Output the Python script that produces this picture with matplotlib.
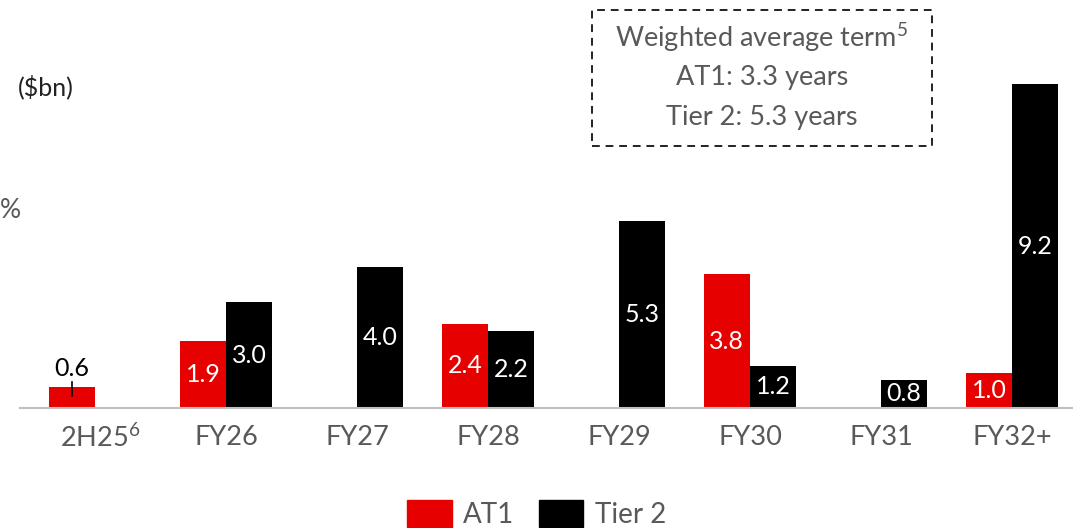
import matplotlib.pyplot as plt
import numpy as np
from matplotlib.patches import Patch, FancyBboxPatch

plt.rcParams['font.family'] = ['Lato', 'DejaVu Sans']
plt.rcParams['mathtext.fontset'] = 'custom'
plt.rcParams['mathtext.rm'] = 'Lato'
plt.rcParams['mathtext.it'] = 'Lato'
plt.rcParams['mathtext.default'] = 'rm'

categories = ['2H25$^{6}$', 'FY26', 'FY27', 'FY28', 'FY29', 'FY30', 'FY31', 'FY32+']
at1 = [0.6, 1.9, 0, 2.4, 0, 3.8, 0, 1.0]
tier2 = [0, 3.0, 4.0, 2.2, 5.3, 1.2, 0.8, 9.2]

red = '#e60000'
grey = '#595959'

fig = plt.figure(figsize=(10.73, 5.28), dpi=100)
ax = fig.add_axes([0, 1 - 408/528, 1, 408/528])

x = np.arange(len(categories))
w = 0.352
b1 = ax.bar(x - w/2, at1, w, color=red, label='AT1')
b2 = ax.bar(x + w/2, tier2, w, color='black', label='Tier 2')

# value labels (white inside, 0.6 sits above with a small leader)
for rect, v in zip(b1, at1):
    if v == 0:
        continue
    cx = rect.get_x() + rect.get_width()/2
    if v < 0.7:
        ax.plot([cx, cx], [0.35, 0.75], color='black', lw=1.2)
        ax.text(cx, 0.8, f'{v:.1f}', ha='center', va='bottom', fontsize=18, color='black')
    else:
        ax.text(cx, v/2, f'{v:.1f}', ha='center', va='center', fontsize=18, color='white')
for rect, v in zip(b2, tier2):
    if v == 0:
        continue
    cx = rect.get_x() + rect.get_width()/2
    ax.text(cx, v/2, f'{v:.1f}', ha='center', va='center', fontsize=18, color='white')

ax.set_xlim(-0.725, 7.466)
ax.set_ylim(0, 408/35.2)
for s in ['top', 'right', 'left']:
    ax.spines[s].set_visible(False)
ax.spines['bottom'].set_color('#bfbfbf')
ax.spines['bottom'].set_linewidth(1.5)
ax.spines['bottom'].set_bounds(-0.573, 7.466)
ax.set_yticks([])
ax.set_xticks(x + 0.04 * (x == 0))
ax.set_xticklabels(categories, fontsize=19.5, color=grey)
ax.tick_params(axis='x', length=0, pad=12)
ax.patch.set_alpha(0)

fig.text(18/1073, 1 - 87/528, '($bn)', fontsize=18, color='#222222', va='center', ha='left')
fig.text(0, 1 - 210/528, '%', fontsize=19, color=grey, va='center', ha='left')

# dashed note box
box = FancyBboxPatch((592/1073, 1 - 146/528), 340/1073, 136/528,
                     boxstyle='square,pad=0', transform=fig.transFigure,
                     fill=False, ec='#222222', lw=1.4, ls=(0, (4, 3)))
fig.add_artist(box)
note = ['Weighted average term$^{5}$', 'AT1: 3.3 years', 'Tier 2: 5.3 years']
for i, t in enumerate(note):
    fig.text(762/1073, 1 - (38 + 40*i)/528, t, fontsize=19.5, color=grey, ha='center', va='center')

handles = [Patch(color=red, label='AT1'), Patch(color='black', label='Tier 2')]
fig.legend(handles=handles, loc='center', bbox_to_anchor=(0.5, 1 - 514/528), ncol=2,
           frameon=False, fontsize=20, labelcolor=grey, handlelength=1.6, handleheight=1.1,
           handletextpad=0.4, columnspacing=0.9)

fig.savefig('out.png', dpi=100)
